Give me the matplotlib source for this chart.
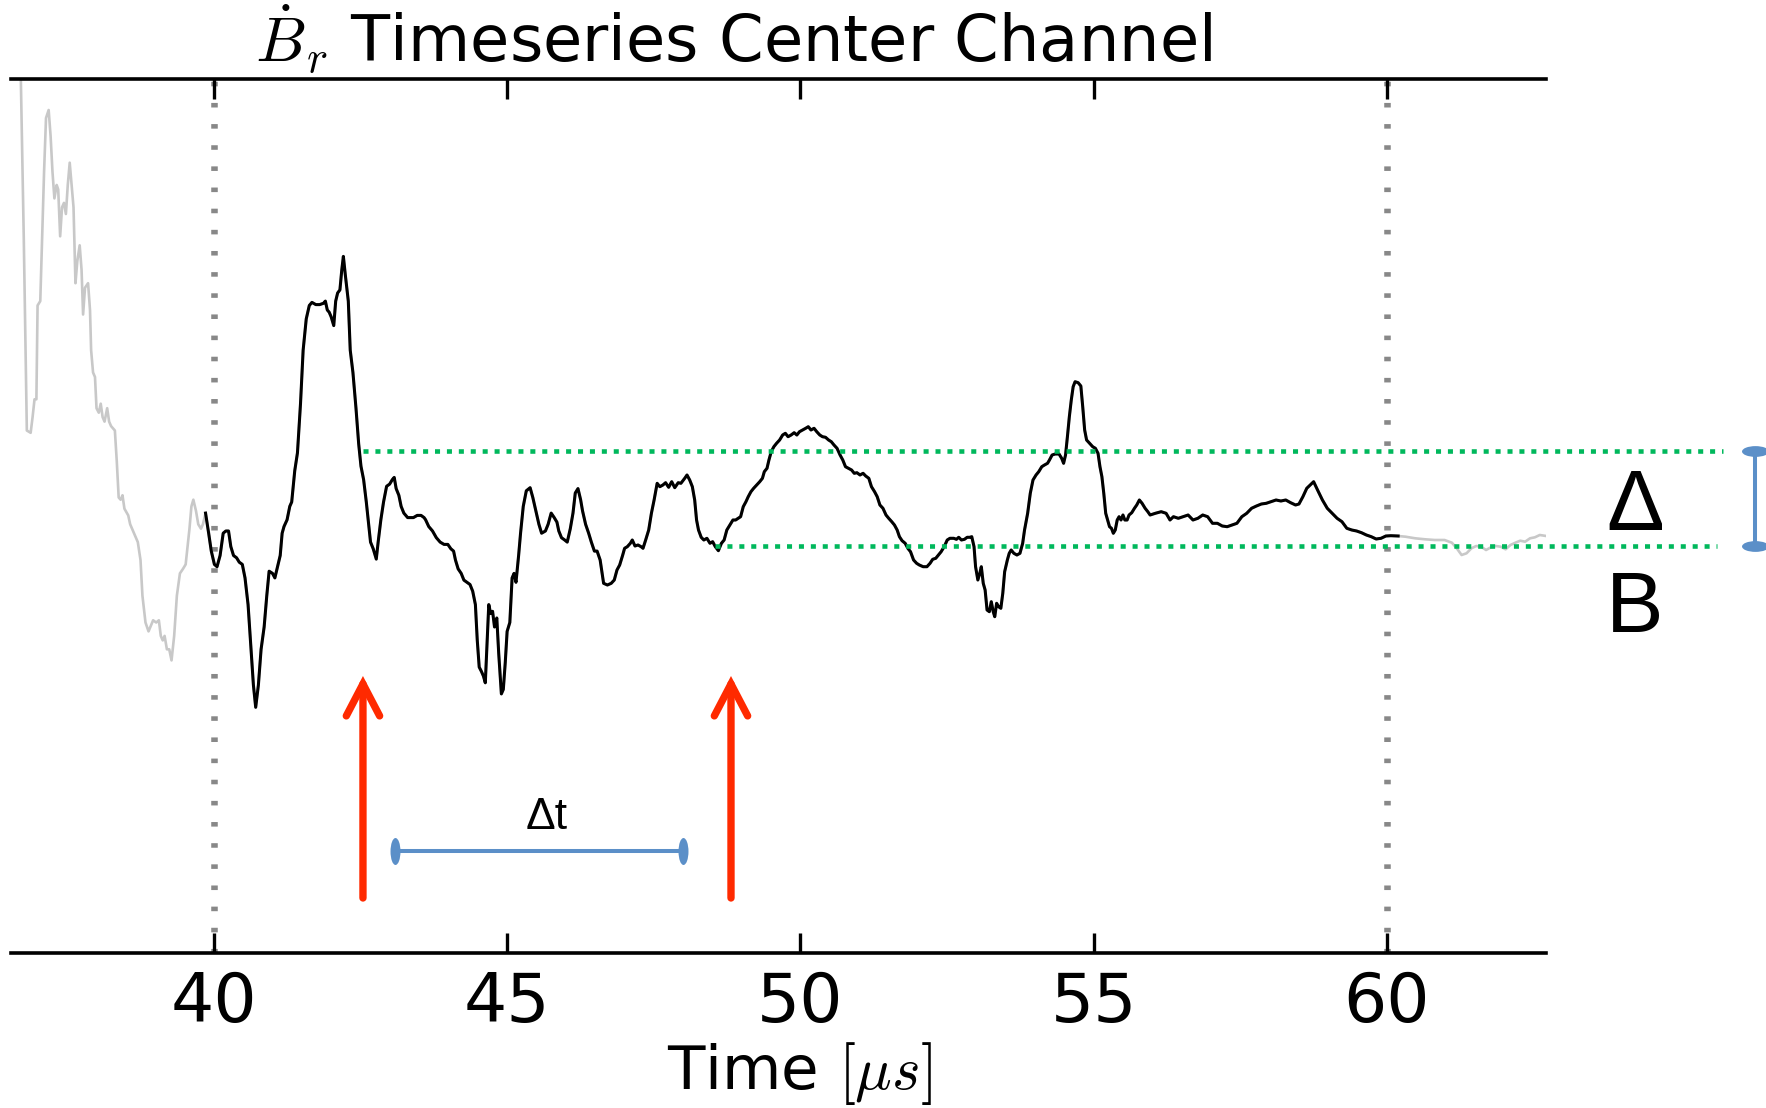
import matplotlib
matplotlib.use("Agg")
import matplotlib.pyplot as plt
import numpy as np
from matplotlib.path import Path
from matplotlib.patches import FancyArrowPatch

plt.rcParams['mathtext.fontset'] = 'cm'
plt.rcParams['font.family'] = ['DejaVu Sans']

# ---------------- data (time in microseconds, signal in arbitrary units) ----------------
pre_t = [36.69, 36.757, 36.809, 36.874, 36.907, 36.940, 36.972, 36.992, 37.038, 37.070, 37.103,
         37.136, 37.181, 37.214, 37.246, 37.279, 37.318, 37.344, 37.377, 37.409, 37.442, 37.475,
         37.507, 37.540, 37.573, 37.605, 37.638, 37.670, 37.710, 37.742, 37.768, 37.801, 37.853,
         37.886, 37.905, 37.938, 37.971, 37.997, 38.036, 38.069, 38.101, 38.134, 38.179, 38.212,
         38.245, 38.310, 38.343, 38.375, 38.408, 38.440, 38.473, 38.538, 38.571, 38.636, 38.701,
         38.747, 38.780, 38.832, 38.884, 38.930, 38.962, 39.015, 39.060, 39.093, 39.126, 39.158,
         39.197, 39.237, 39.276, 39.321, 39.367, 39.419, 39.471, 39.517, 39.550, 39.582, 39.615,
         39.648, 39.693, 39.732, 39.778, 39.811]
pre_v = [5.2, 3.074, 1.155, 1.132, 1.289, 1.467, 1.467, 2.405, 2.449, 3.074, 3.744,
         4.280, 4.360, 4.101, 3.744, 3.476, 3.610, 3.565, 3.097, 3.387, 3.431, 3.320,
         3.610, 3.833, 3.610, 3.387, 2.628, 2.851, 3.007, 2.762, 2.315, 2.583, 2.628,
         2.360, 1.958, 1.735, 1.690, 1.378, 1.333, 1.423, 1.289, 1.244, 1.378, 1.244,
         1.199, 1.155, 0.842, 0.485, 0.463, 0.507, 0.373, 0.306, 0.217, 0.128, 0.039,
         -0.140, -0.497, -0.765, -0.854, -0.787, -0.743, -0.765, -0.743, -0.899, -0.944, -0.899,
         -1.033, -1.033, -1.144, -0.899, -0.497, -0.274, -0.229, -0.184, -0.006, 0.173, 0.396,
         0.463, 0.351, 0.217, 0.173, 0.217]

win_t = [39.856, 39.909, 39.954, 40.007, 40.052, 40.104, 40.157, 40.202, 40.248, 40.287, 40.333,
         40.385, 40.431, 40.483, 40.529, 40.581, 40.626, 40.672, 40.711, 40.757, 40.803, 40.855,
         40.900, 40.940, 40.998, 41.038, 41.083, 41.129, 41.162, 41.194, 41.246, 41.292, 41.325,
         41.377, 41.423, 41.475, 41.520, 41.573, 41.625, 41.670, 41.736, 41.801, 41.866, 41.899,
         41.932, 41.964, 41.997, 42.042, 42.075, 42.108, 42.147, 42.179, 42.206, 42.238, 42.290,
         42.323, 42.369, 42.421, 42.467, 42.506, 42.551, 42.597, 42.636, 42.669, 42.715, 42.767,
         42.799, 42.845, 42.891, 42.943, 42.995, 43.041, 43.073, 43.106, 43.152, 43.191, 43.237,
         43.302, 43.400, 43.465, 43.530, 43.582, 43.608, 43.661, 43.726, 43.791, 43.856, 43.922,
         43.987, 44.039, 44.085, 44.117, 44.163, 44.215, 44.261, 44.313, 44.365, 44.411, 44.457,
         44.489, 44.522, 44.561, 44.594, 44.626, 44.659, 44.685, 44.718, 44.750, 44.783, 44.822,
         44.855, 44.900, 44.933, 44.966, 44.998, 45.044, 45.083, 45.116, 45.149, 45.194, 45.227,
         45.273, 45.325, 45.390, 45.436, 45.488, 45.540, 45.586, 45.651, 45.697, 45.749, 45.801,
         45.847, 45.879, 45.925, 45.977, 46.023, 46.075, 46.121, 46.160, 46.206, 46.251, 46.284,
         46.336, 46.388, 46.434, 46.486, 46.532, 46.584,
         46.643, 46.708, 46.773, 46.825, 46.871, 46.917, 46.969, 47.001, 47.047, 47.099, 47.132,
         47.178, 47.230, 47.282, 47.315, 47.360, 47.412, 47.458, 47.504, 47.556, 47.602, 47.654,
         47.700, 47.752, 47.804, 47.856, 47.915, 47.961, 48.026, 48.065, 48.111, 48.156, 48.196,
         48.228, 48.261, 48.307, 48.352, 48.404, 48.457, 48.502, 48.548, 48.600, 48.652, 48.698,
         48.744, 48.796, 48.848, 48.894, 48.939, 48.979, 49.024, 49.070, 49.109, 49.155, 49.201,
         49.253, 49.305, 49.351, 49.383, 49.429, 49.462, 49.501, 49.546, 49.592, 49.644, 49.696,
         49.742, 49.788, 49.840, 49.892, 49.938, 49.983, 50.036, 50.088, 50.133, 50.179, 50.231,
         50.277, 50.329, 50.375, 50.427, 50.479, 50.525, 50.571, 50.623, 50.675, 50.721, 50.767,
         50.819, 50.871, 50.917, 50.962, 51.015, 51.067, 51.112, 51.165, 51.210, 51.263, 51.308,
         51.354, 51.406, 51.458, 51.504, 51.556, 51.602, 51.648, 51.687, 51.732, 51.785, 51.830,
         51.876, 51.928, 51.980, 52.026, 52.091, 52.156, 52.209, 52.254, 52.306, 52.352, 52.398,
         52.450, 52.502, 52.548, 52.613, 52.659, 52.698, 52.744, 52.796, 52.842, 52.887, 52.920,
         52.959, 52.985, 53.024, 53.057, 53.083, 53.116, 53.148, 53.181, 53.220, 53.253, 53.286,
         53.312, 53.344, 53.377, 53.416, 53.449, 53.481, 53.527, 53.559, 53.592, 53.638, 53.690,
         53.742, 53.788, 53.820, 53.873, 53.918, 53.964, 54.016, 54.062, 54.114, 54.160, 54.212,
         54.245, 54.290, 54.343, 54.408, 54.453, 54.486, 54.519, 54.551, 54.584, 54.617, 54.649,
         54.682, 54.734, 54.780, 54.812, 54.845, 54.878, 54.930, 54.982, 55.028, 55.073, 55.106,
         55.139, 55.171, 55.204, 55.237, 55.269, 55.302, 55.334, 55.367, 55.400, 55.432, 55.465,
         55.498, 55.530, 55.569, 55.602, 55.648, 55.694, 55.733, 55.778, 55.824, 55.876, 55.922,
         55.961,
         56.050, 56.150, 56.234, 56.300, 56.359, 56.442, 56.525, 56.609, 56.692, 56.775, 56.858,
         56.942, 57.025, 57.108, 57.191, 57.275, 57.358, 57.441, 57.525, 57.608, 57.691, 57.774,
         57.858, 57.941, 58.024, 58.108, 58.191, 58.274, 58.357, 58.441, 58.499, 58.566, 58.632,
         58.691, 58.749, 58.816, 58.899, 58.982, 59.065, 59.149, 59.232, 59.315, 59.399, 59.482,
         59.565, 59.648, 59.732, 59.815, 59.898, 59.981, 60.065, 60.190]
win_v = [0.329, 0.128, -0.051, -0.184, -0.207, -0.095, 0.128, 0.150, 0.150, -0.006, -0.095,
         -0.118, -0.162, -0.184, -0.319, -0.586, -0.988, -1.390, -1.613, -1.390, -1.033, -0.810,
         -0.497, -0.252, -0.274, -0.319, -0.207, -0.095, 0.128, 0.195, 0.262, 0.396, 0.440,
         0.753, 0.931, 1.422, 1.958, 2.271, 2.405, 2.436, 2.414, 2.414, 2.427, 2.449,
         2.360, 2.338, 2.293, 2.204, 2.449, 2.530, 2.561, 2.762, 2.896, 2.717, 2.449,
         1.958, 1.735, 1.378, 1.021, 0.798, 0.664, 0.440, 0.217, 0.039, -0.028, -0.131,
         0.039, 0.262, 0.440, 0.597, 0.619, 0.664, 0.686, 0.574, 0.507, 0.396, 0.329,
         0.284, 0.284, 0.306, 0.306, 0.284, 0.262, 0.195, 0.150, 0.083, 0.039, 0.016,
         0.016, -0.028, -0.051, -0.140, -0.229, -0.274, -0.341, -0.363, -0.385, -0.452, -0.586,
         -0.944, -1.211, -1.256, -1.301, -1.368, -0.944, -0.586, -0.676, -0.653, -0.810, -0.720,
         -1.078, -1.479, -1.434, -1.167, -0.854, -0.765, -0.319, -0.274, -0.363, -0.095, 0.128,
         0.396, 0.552, 0.583, 0.485, 0.351, 0.217, 0.128, 0.150, 0.217, 0.329, 0.284,
         0.239, 0.150, 0.083, 0.061, 0.039, 0.173, 0.329, 0.530, 0.574, 0.463, 0.351,
         0.217, 0.128, 0.039, -0.051, -0.051, -0.140,
         -0.373, -0.390, -0.373, -0.340, -0.240, -0.190, -0.090, -0.023, -0.007, 0.027, 0.060,
         0.000, 0.010, -0.007, -0.023, 0.060, 0.160, 0.327, 0.460, 0.627, 0.593, 0.610,
         0.633, 0.587, 0.643, 0.583, 0.633, 0.627, 0.677, 0.710, 0.660, 0.593, 0.460,
         0.260, 0.160, 0.087, 0.060, 0.077, 0.027, 0.043, -0.007, -0.047, 0.027, 0.060,
         0.160, 0.210, 0.260, 0.260, 0.277, 0.293, 0.393, 0.443, 0.493, 0.543, 0.577,
         0.610, 0.643, 0.677, 0.743, 0.777, 0.860, 0.943, 0.993, 1.027, 1.060, 1.110,
         1.127, 1.093, 1.110, 1.133, 1.110, 1.143, 1.160, 1.177, 1.193, 1.160, 1.177,
         1.143, 1.110, 1.093, 1.087, 1.060, 1.043, 1.010, 0.977, 0.910, 0.860, 0.793,
         0.777, 0.760, 0.727, 0.733, 0.710, 0.727, 0.700, 0.677, 0.593, 0.543, 0.493,
         0.410, 0.377, 0.310, 0.277, 0.243, 0.210, 0.160, 0.093, 0.053, 0.027, -0.023,
         -0.057, -0.140, -0.173, -0.190, -0.207, -0.207, -0.173, -0.133, -0.123, -0.090, -0.057,
         -0.007, 0.060, 0.077, 0.077, 0.067, 0.087, 0.060, 0.067, 0.087, 0.087, 0.093,
         -0.007, -0.207, -0.340, -0.273, -0.207, -0.373, -0.440, -0.640, -0.657, -0.557, -0.657,
         -0.707, -0.573, -0.607, -0.623, -0.473, -0.257, -0.140, -0.073, -0.040, -0.073, -0.090,
         -0.073, 0.027, 0.160, 0.327, 0.527, 0.660, 0.710, 0.743, 0.793, 0.810, 0.827,
         0.860, 0.910, 0.920, 0.920, 0.877, 0.827, 0.910, 1.093, 1.293, 1.460, 1.593,
         1.643, 1.633, 1.600, 1.393, 1.160, 1.060, 1.027, 0.993, 0.977, 0.927, 0.793,
         0.693, 0.527, 0.327, 0.260, 0.193, 0.177, 0.127, 0.160, 0.260, 0.293, 0.260,
         0.310, 0.260, 0.260, 0.310, 0.333, 0.377, 0.410, 0.460, 0.427, 0.377, 0.343,
         0.310,
         0.327, 0.343, 0.327, 0.260, 0.293, 0.277, 0.293, 0.310, 0.260, 0.277, 0.310,
         0.293, 0.227, 0.227, 0.200, 0.193, 0.210, 0.227, 0.293, 0.327, 0.377, 0.400,
         0.420, 0.427, 0.443, 0.460, 0.450, 0.460, 0.433, 0.410, 0.420, 0.493, 0.577,
         0.610, 0.643, 0.560, 0.460, 0.377, 0.327, 0.277, 0.243, 0.177, 0.160, 0.150,
         0.133, 0.110, 0.093, 0.070, 0.077, 0.100, 0.103, 0.100]

post_t = [60.315, 60.481, 60.648, 60.814, 60.981, 61.106, 61.189, 61.272, 61.356, 61.439, 61.522,
          61.605, 61.689, 61.772, 61.855, 61.939, 62.022, 62.105, 62.189, 62.272, 62.355, 62.439,
          62.522, 62.605, 62.713]
post_v = [0.093, 0.077, 0.067, 0.060, 0.060, 0.033, -0.023, -0.090, -0.073, -0.023, 0.000,
          -0.007, -0.040, -0.013, 0.000, -0.007, -0.033, 0.010, 0.033, 0.053, 0.043, 0.077,
          0.087, 0.110, 0.100]

xticks = [40, 45, 50, 55, 60]
window = [40, 60]               # analysis window (gray dotted lines)
level_hi, level_lo = 0.95, 0.0  # green dotted levels
hi_start, lo_start = 42.54, 48.54
hi_end, lo_end = 65.73, 65.63
arrow_times = [42.54, 48.815]
arrow_tip, arrow_base = -1.30, -3.52
dt_span = [43.09, 47.99]
dt_level = -3.047
bar_x = 66.274

# ---------------- figure ----------------
W, H = 1766, 1108
fig = plt.figure(figsize=(W / 100, H / 100), dpi=100)
ax = fig.add_axes([11 / W, 1 - 953 / H, 1535 / W, 874 / H])
ax.set_xlim(36.539, 62.711)
ax.set_ylim(-4.07, 4.67)

all_t = pre_t + win_t + post_t
all_v = pre_v + win_v + post_v
ax.plot(all_t, all_v, color='#c8c8c8', lw=1.9, zorder=2)
ax.plot(win_t, win_v, color='black', lw=2.2, zorder=3)

for w in window:
    ax.axvline(w, color='#888888', lw=4.7, linestyle=(0, (0.7, 2.54)), zorder=1)

green = '#00b85c'
gls = (0, (1.1, 1.5))
ax.plot([hi_start, hi_end], [level_hi, level_hi], color=green, lw=3.3, linestyle=gls,
        clip_on=False, zorder=4)
ax.plot([lo_start, lo_end], [level_lo, level_lo], color=green, lw=3.3, linestyle=gls,
        clip_on=False, zorder=4)

red = '#ff2a00'
for at in arrow_times:
    arr = FancyArrowPatch((at, arrow_base), (at, arrow_tip),
                          arrowstyle='->,head_length=2.3,head_width=1.2',
                          mutation_scale=10, lw=5.3, color=red,
                          capstyle='round', joinstyle='miter',
                          shrinkA=0, shrinkB=0, zorder=5)
    ax.add_patch(arr)

blue = '#5b8fc8'
circ = Path.unit_circle()
vert_ell = Path(circ.vertices * np.array([0.37, 1.0]), circ.codes)
horz_ell = Path(circ.vertices * np.array([1.0, 0.4]), circ.codes)
ax.plot(dt_span, [dt_level, dt_level], color=blue, lw=2.9, marker=vert_ell,
        markersize=19.4, markeredgewidth=0, markerfacecolor=blue, zorder=5)
ax.plot([bar_x, bar_x], [level_hi, level_lo], color=blue, lw=2.9, marker=horz_ell,
        markersize=19.4, markeredgewidth=0, markerfacecolor=blue, clip_on=False, zorder=5)

ax.text(np.mean(dt_span) + 0.14, -2.83, 'Δt', fontsize=32, family=['Liberation Sans', 'DejaVu Sans'],
        ha='center', va='baseline')
ax.text(64.23, 0.16, 'Δ', fontsize=62, family=['Liberation Sans', 'DejaVu Sans'],
        ha='center', va='baseline', clip_on=False)
ax.text(64.23, -0.86, 'B', fontsize=62, family=['Liberation Sans', 'DejaVu Sans'],
        ha='center', va='baseline', clip_on=False)

# axes styling
for s in ['left', 'right']:
    ax.spines[s].set_visible(False)
for s in ['top', 'bottom']:
    ax.spines[s].set_linewidth(2.6)
ax.set_yticks([])
ax.set_xticks(xticks)
ax.set_xticklabels([str(x) for x in xticks])
ax.tick_params(axis='x', direction='in', top=True, bottom=True, length=14.4, width=2.4,
               labelsize=49, pad=12)

fig.text(734 / W, 1 - 63 / H, r'$\dot{B}_r$ Timeseries Center Channel', fontsize=46,
         ha='center', va='baseline')
fig.text(800 / W, 1 - 1089 / H, r'Time $[\mu s]$', fontsize=44, ha='center', va='baseline')

fig.savefig('out.png', dpi=100)
